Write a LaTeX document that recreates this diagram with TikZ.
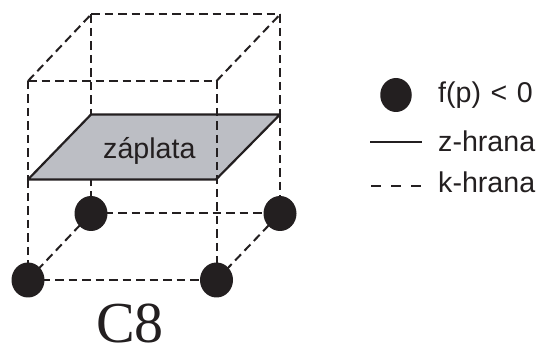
\documentclass[tikz,border=0pt]{standalone}
\usepackage{fontspec}
\usetikzlibrary{shapes.geometric}
\setmainfont{Liberation Sans}
\newfontfamily\cserif{Liberation Serif}
\definecolor{ink}{HTML}{231F20}
\definecolor{patchgrey}{HTML}{BCBEC4}
\tikzset{
  kedge/.style={draw=ink,line width=2pt,dash pattern=on 8.5pt off 5pt},
  zedge/.style={draw=ink,line width=2.2pt,line join=round},
  dot/.style={ellipse,fill=ink,inner sep=0pt,minimum width=33pt,minimum height=35pt},
  legenddot/.style={ellipse,fill=ink,inner sep=0pt,minimum width=31.5pt,minimum height=34pt},
  lab/.style={anchor=base west,inner sep=0pt,text=ink,font=\fontsize{28.6pt}{30pt}\selectfont}
}
\begin{document}
\begin{tikzpicture}[x=1pt,y=-1pt]
\useasboundingbox (0,0) rectangle (541,347);
% cube corners
\coordinate (t1) at (28,81);
\coordinate (t2) at (216.5,81);
\coordinate (t3) at (280,14.5);
\coordinate (t4) at (91,14.5);
\coordinate (p1) at (28,179.5);
\coordinate (p2) at (216,179.5);
\coordinate (p3) at (280,114.5);
\coordinate (p4) at (91,114.5);
\coordinate (b1) at (28,280);
\coordinate (b2) at (216.5,280);
\coordinate (b3) at (280,213.5);
\coordinate (b4) at (91,213.5);
% hidden edge, behind the patch
\draw[kedge] (b4) -- (p4);
% patch
\draw[zedge,fill=patchgrey] (p1) -- (p2) -- (p3) -- (p4) -- cycle;
% dashed edges
\draw[kedge] (t1) -- (t2);
\draw[kedge] (t4) -- (t3);
\draw[kedge] (t1) -- (t4);
\draw[kedge] (t2) -- (t3);
\draw[kedge] (t4) -- (p4);
\draw[kedge] (t3) -- (p3);
\draw[kedge] (t1) -- (p1);
\draw[kedge] (t2) -- (b2);
\draw[kedge] (p1) -- (b1);
\draw[kedge] (p3) -- (b3);
\draw[kedge] (b4) -- (b3);
\draw[kedge] (b1) -- (b2);
\draw[kedge] (b1) -- (b4);
\draw[kedge] (b2) -- (b3);
% vertex dots
\node[dot] (d1) at (b1) {};
\node[dot] (d2) at (b2) {};
\node[dot] (d3) at (b3) {};
\node[dot] (d4) at (b4) {};
% texts
\node[lab] (patchlabel) at (103,159) {záplata};
\node[anchor=base,inner sep=0pt,text=ink,font=\cserif\fontsize{58pt}{60pt}\selectfont] (name) at (130,343) {C8};
% legend
\node[legenddot] (ldot) at (396,95) {};
\node[lab] (l1) at (438,103) {f(p)\hspace{9.5pt}<\hspace{9.5pt}0};
\coordinate (za) at (370,142);
\coordinate (zb) at (422,142);
\draw[zedge] (za) -- (zb);
\node[lab] (l2) at (438,152) {z-hrana};
\coordinate (ka) at (371,186);
\coordinate (kb) at (421,186);
\draw[draw=ink,line width=2pt,dash pattern=on 10pt off 10pt] (ka) -- (kb);
\node[lab] (l3) at (438,193) {k-hrana};
\end{tikzpicture}
\end{document}
